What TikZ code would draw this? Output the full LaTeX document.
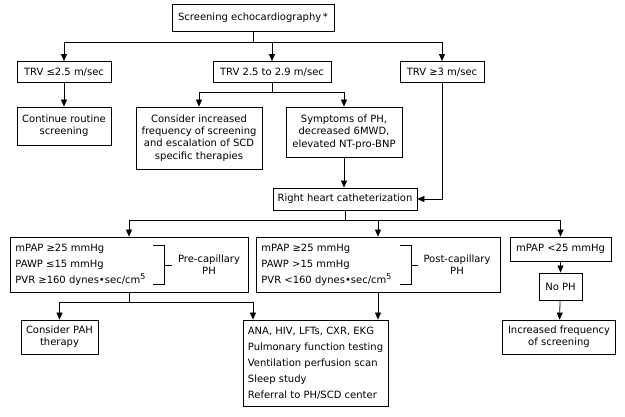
\documentclass[tikz,border=0pt]{standalone}
\usepackage{fontspec}
\setmainfont{DejaVu Sans}
\usetikzlibrary{arrows.meta}
\newcommand{\cmfive}{cm\raisebox{3.5pt}{\fontsize{8}{8}\selectfont 5}}

\begin{document}
\begin{tikzpicture}
	[x=1pt,y=-1pt,->,>={Triangle[length=7pt,width=6pt]},line width=0.8pt,
	 font=\fontsize{10}{12.3}\selectfont]
	\tikzstyle{box}=[draw,rectangle,align=center,inner sep=1.5pt,line width=0.8pt]
	\tikzstyle{list}=[box,align=left,inner xsep=4pt,font=\fontsize{10}{16}\selectfont]
	\useasboundingbox (0,0) rectangle (625,417);

	% first row
	\node[box,minimum width=162pt,minimum height=27pt] (echo) at (253,18) {Screening echocardiography\,*};
	\node[box,minimum width=94pt,minimum height=21pt] (trv1) at (64,72)  {TRV ≤2.5 m/sec};
	\node[box,minimum width=118pt,minimum height=21pt] (trv2) at (272,72) {TRV 2.5 to 2.9 m/sec};
	\node[box,minimum width=84pt,minimum height=21pt] (trv3) at (442,72) {TRV ≥3 m/sec};

	% second row
	\node[box,minimum width=94pt,minimum height=38pt] (cont) at (64,126) {Continue routine\\screening};
	\node[box,minimum width=126pt,minimum height=62pt] (cons) at (199,138) {Consider increased\\frequency of screening\\and escalation of SCD\\specific therapies};
	\node[box,minimum width=116pt,minimum height=50pt] (symp) at (344,132) {Symptoms of PH,\\decreased 6MWD,\\elevated NT-pro-BNP};
	\node[box,minimum width=144pt,minimum height=22pt] (rhc) at (345,199) {Right heart catheterization};

	% hemodynamics
	\node[box,minimum width=238pt,minimum height=55pt] (pre) at (129,264.5) {};
	\node[list,anchor=west,draw=none] (preT) at (11,264.5) {mPAP ≥25 mmHg\\PAWP ≤15 mmHg\\PVR ≥160 dynes•sec/\cmfive};
	\node[align=center] (preL) at (209,265) {Pre-capillary\\PH};
	\node[box,minimum width=244pt,minimum height=55pt] (post) at (378,264.5) {};
	\node[list,anchor=west,draw=none] (postT) at (257,264.5) {mPAP ≥25 mmHg\\PAWP >15 mmHg\\PVR <160 dynes•sec/\cmfive};
	\node[align=center] (postL) at (457,265) {Post-capillary\\PH};
	\node[box,minimum width=101pt,minimum height=24pt] (lowm) at (560.5,249) {mPAP <25 mmHg};
	\node[box,minimum width=43pt,minimum height=27pt] (noph) at (560.5,286.5) {No PH};

	% last row
	\node[box,minimum width=77pt,minimum height=34pt] (pah) at (59.5,337) {Consider PAH\\therapy};
	\node[list,minimum width=145pt,minimum height=86pt] (ana) at (315.5,363) {ANA, HIV, LFTs, CXR, EKG\\Pulmonary function testing\\Ventilation perfusion scan\\Sleep study\\Referral to PH/SCD center};
	\node[box,minimum width=113pt,minimum height=34pt] (incr) at (559,337) {Increased frequency\\of screening};

	\coordinate (s1) at (253,42);
	\coordinate (s2) at (272,92);
	\coordinate (s3) at (345,220);
	\coordinate (s4) at (129,302);

	% brackets
	\draw[-] (153,245) -- (164,245) -- (164,284) -- (153,284);
	\draw[-] (164,265) -- (172,265);
	\draw[-] (400,245) -- (411,245) -- (411,284) -- (400,284);
	\draw[-] (411,265) -- (418,265);

	% connectors
	\draw[-] (echo) -- (s1);
	\draw (s1) -| (trv1);
	\draw (s1) -| (trv2);
	\draw (s1) -| (trv3);
	\draw (trv1) -- (cont);
	\draw[-] (trv2) -- (s2);
	\draw (s2) -| (cons);
	\draw (s2) -| (symp);
	\draw (symp) -- (symp |- rhc.north);
	\draw (trv3) |- (rhc);
	\draw[-] (rhc) -- (s3);
	\draw (s3) -| (pre);
	\draw (s3) -| (post);
	\draw (s3) -| (lowm);
	\draw (lowm) -- (noph);
	\draw (noph) -- (incr);
	\draw[-] (pre) -- (s4);
	\draw (s4) -| (pah);
	\draw (s4) -| ([xshift=-62.5pt]ana.north);
	\draw (post.south) -- ([xshift=62.5pt]ana.north);
\end{tikzpicture}
\end{document}
